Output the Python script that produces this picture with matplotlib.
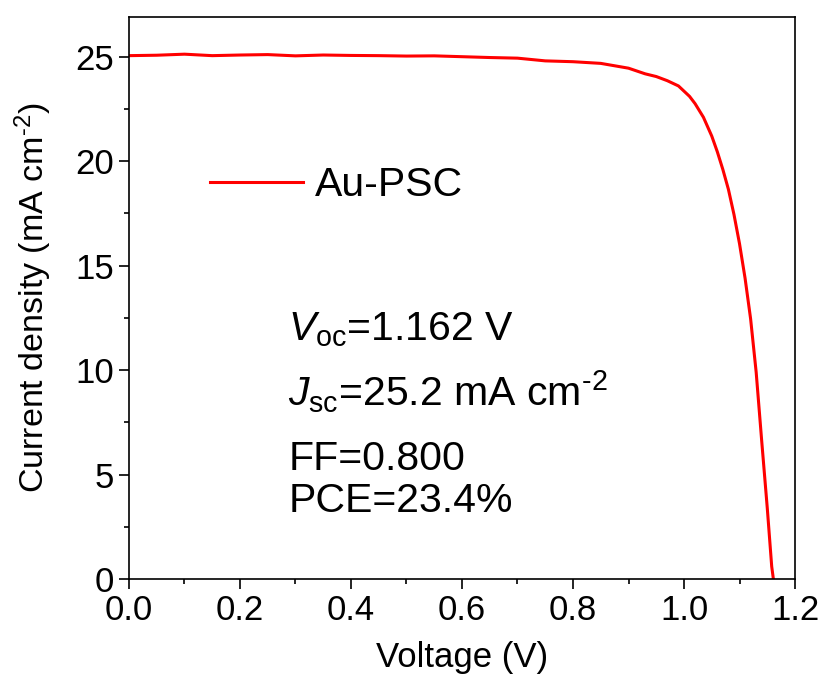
import matplotlib.pyplot as plt
from matplotlib.ticker import MultipleLocator

plt.rcParams['font.family'] = ['Liberation Sans', 'DejaVu Sans']
plt.rcParams['mathtext.fontset'] = 'custom'
plt.rcParams['mathtext.rm'] = 'Liberation Sans'
plt.rcParams['mathtext.it'] = 'Liberation Sans:italic'

# J-V curve
voltage = [0.0, 0.05, 0.1, 0.15, 0.2, 0.25, 0.3, 0.35, 0.4, 0.45, 0.5, 0.55,
           0.6, 0.65, 0.7, 0.75, 0.8, 0.85, 0.9, 0.93, 0.95, 0.97, 0.99,
           1.0, 1.01, 1.02, 1.035, 1.05, 1.06, 1.07, 1.08, 1.09, 1.10, 1.11,
           1.12, 1.13, 1.14, 1.15, 1.158, 1.161]
current = [25.05, 25.07, 25.12, 25.05, 25.08, 25.10, 25.04, 25.08, 25.06,
           25.05, 25.03, 25.04, 25.0, 24.96, 24.93, 24.8, 24.76, 24.68, 24.45,
           24.18, 24.05, 23.85, 23.6, 23.35, 23.1, 22.75, 22.1, 21.2, 20.45,
           19.6, 18.65, 17.45, 16.05, 14.4, 12.45, 9.9, 6.6, 3.4, 0.6, 0.0]

params = [
    r"$V_{\mathrm{oc}}$=1.162 V",
    r"$J_{\mathrm{sc}}$=25.2 mA cm$^{\text{-2}}$",
    "FF=0.800",
    "PCE=23.4%",
]
param_y = [0.425, 0.307, 0.194, 0.120]

fig = plt.figure(figsize=(8.23, 6.88), dpi=100)
ax = fig.add_axes([0.1567, 0.1584, 0.8093, 0.8169])

ax.plot(voltage, current, color="#ff0000", linewidth=2.2, label="Au-PSC")

ax.set_xlim(0, 1.2)
ax.set_ylim(0, 26.9)
ax.xaxis.set_major_locator(MultipleLocator(0.2))
ax.xaxis.set_minor_locator(MultipleLocator(0.1))
ax.yaxis.set_major_locator(MultipleLocator(5))
ax.yaxis.set_minor_locator(MultipleLocator(2.5))
ax.xaxis.set_major_formatter(plt.FuncFormatter(lambda v, p: f"{v:.1f}"))

ax.tick_params(which="major", direction="out", length=7, width=1.2,
               labelsize=25, pad=4)
ax.tick_params(which="minor", direction="out", length=3.5, width=1.2)
for s in ax.spines.values():
    s.set_linewidth(1.2)

ax.set_xlabel("Voltage (V)", fontsize=25, labelpad=10)
ax.set_ylabel(r"Current density (mA cm$^{\text{-2}}$)", fontsize=24.5,
              labelpad=15)

ax.legend(loc="center left", bbox_to_anchor=(0.122, 0.701), frameon=False,
          fontsize=29.5, handlelength=2.27, handletextpad=0.29,
          borderpad=0, borderaxespad=0)

for txt, yy in zip(params, param_y):
    ax.text(0.239, yy, txt, transform=ax.transAxes, fontsize=29.5,
            va="baseline", ha="left")

fig.savefig("out.png", dpi=100)
